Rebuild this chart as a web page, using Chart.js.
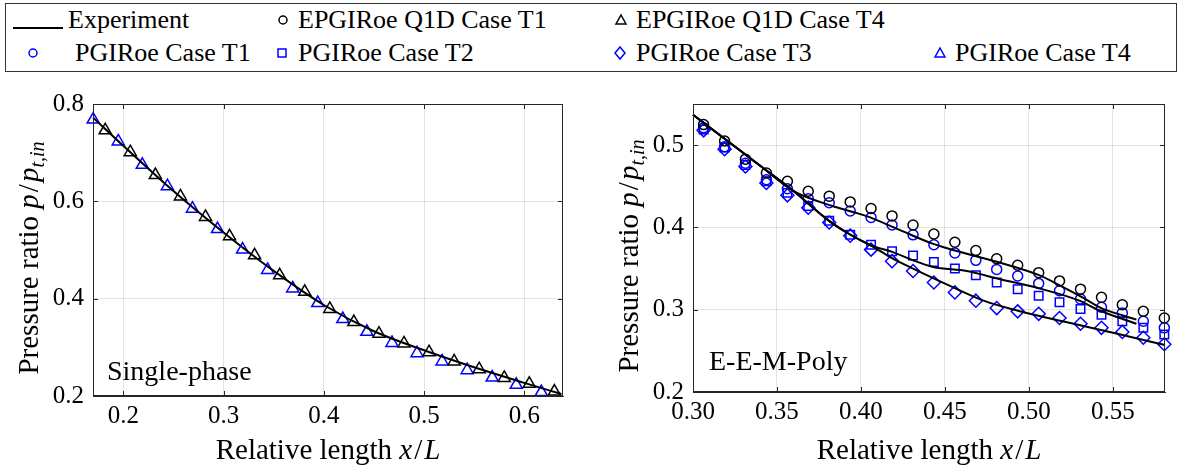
<!DOCTYPE html>
<html>
<head>
<meta charset="utf-8">
<script src="https://cdn.jsdelivr.net/npm/chart.js@4.4.1/dist/chart.umd.min.js"></script>
<style>
  body { margin: 0; width: 1181px; height: 468px; background: #fff; position: relative; overflow: hidden; }
  #legend { position: absolute; left: 5px; top: 3px; width: 1172px; height: 69px; border: 1px solid #333; box-sizing: border-box; }
  .lg { position: absolute; font-family: 'Liberation Serif'; font-size: 26px; line-height: 30px; white-space: nowrap; color: #000; }
  .mk { position: absolute; }
  canvas { position: absolute; }
</style>
</head>
<body>
<div id="legend"></div>
<canvas id="left" width="590" height="388" style="left:0;top:80px"></canvas>
<canvas id="right" width="591" height="388" style="left:590px;top:80px"></canvas>

<script>
/* Pressure ratio along the nozzle — single-phase vs E-E-M-Poly */

const SERIF = "'Liberation Serif'";
const AXIS  = "#262626";
const GRID  = "rgba(38,38,38,0.13)";
const BLUE  = "#0000ff";

// ── Left panel: single-phase ────────────────────────────────────────────────
const L_X_TICKS = [0.2, 0.3, 0.4, 0.5, 0.6];
const L_Y_TICKS = [0.2, 0.4, 0.6, 0.8];

const L_EXP_X = [0.1698, 0.2, 0.25, 0.3, 0.35, 0.4, 0.45, 0.5, 0.55, 0.6, 0.637];
const L_EXP_Y = [0.772, 0.714, 0.621, 0.536, 0.457, 0.387, 0.333, 0.294, 0.259, 0.227, 0.204];

const L_Q1D_T4_X = [0.182, 0.207, 0.232, 0.257, 0.282, 0.306, 0.331, 0.356, 0.381, 0.406, 0.430, 0.455, 0.480, 0.505, 0.530, 0.555, 0.580, 0.605, 0.630];
const L_Q1D_T4_Y = [0.746, 0.701, 0.654, 0.610, 0.568, 0.528, 0.489, 0.448, 0.414, 0.379, 0.352, 0.328, 0.308, 0.290, 0.271, 0.255, 0.237, 0.225, 0.209];

const L_PG_T4_X = [0.170, 0.195, 0.219, 0.244, 0.269, 0.294, 0.319, 0.344, 0.369, 0.394, 0.419, 0.443, 0.468, 0.493, 0.518, 0.543, 0.568, 0.592, 0.617];
const L_PG_T4_Y = [0.768, 0.723, 0.675, 0.631, 0.585, 0.543, 0.501, 0.459, 0.421, 0.391, 0.358, 0.332, 0.309, 0.288, 0.271, 0.253, 0.238, 0.223, 0.208];

// ── Right panel: E-E-M-Poly ─────────────────────────────────────────────────
const R_X_TICKS = [0.30, 0.35, 0.40, 0.45, 0.50, 0.55];
const R_Y_TICKS = [0.2, 0.3, 0.4, 0.5];

const R_EXP1_X = [0.300, 0.320, 0.340, 0.360, 0.383, 0.403, 0.423, 0.443, 0.463, 0.483, 0.506, 0.518, 0.531, 0.543, 0.556, 0.564];
const R_EXP1_Y = [0.537, 0.506, 0.475, 0.444, 0.426, 0.414, 0.397, 0.380, 0.368, 0.357, 0.342, 0.330, 0.316, 0.302, 0.293, 0.288];
const R_EXP2_X = [0.300, 0.320, 0.340, 0.360, 0.381, 0.393, 0.406, 0.419, 0.431, 0.443, 0.463, 0.483, 0.506, 0.530, 0.542, 0.564];
const R_EXP2_Y = [0.537, 0.506, 0.475, 0.444, 0.408, 0.392, 0.378, 0.370, 0.360, 0.352, 0.347, 0.337, 0.326, 0.311, 0.299, 0.283];
const R_EXP3_X = [0.300, 0.320, 0.340, 0.360, 0.381, 0.393, 0.406, 0.419, 0.431, 0.453, 0.473, 0.493, 0.522, 0.552, 0.581];
const R_EXP3_Y = [0.537, 0.506, 0.475, 0.444, 0.408, 0.392, 0.378, 0.362, 0.350, 0.329, 0.311, 0.299, 0.285, 0.271, 0.257];

const R_X = [0.3063, 0.3188, 0.3312, 0.3437, 0.3562, 0.3686, 0.3811, 0.3936, 0.4060, 0.4185, 0.4310, 0.4434,
             0.4559, 0.4684, 0.4808, 0.4933, 0.5058, 0.5182, 0.5307, 0.5432, 0.5556, 0.5681, 0.5806];
const R_Q1D_T1 = [0.525, 0.505, 0.483, 0.466, 0.456, 0.444, 0.438, 0.431, 0.423, 0.414, 0.403, 0.392,
                  0.382, 0.372, 0.362, 0.354, 0.345, 0.335, 0.325, 0.315, 0.306, 0.298, 0.290];
const R_PG_T1  = [0.521, 0.498, 0.478, 0.458, 0.447, 0.435, 0.430, 0.420, 0.412, 0.403, 0.391, 0.379,
                  0.369, 0.360, 0.349, 0.341, 0.332, 0.323, 0.313, 0.303, 0.296, 0.286, 0.278];
const R_PG_T2  = [0.519, 0.497, 0.476, 0.456, 0.442, 0.426, 0.408, 0.391, 0.379, 0.371, 0.366, 0.358,
                  0.350, 0.342, 0.333, 0.325, 0.317, 0.309, 0.301, 0.294, 0.286, 0.278, 0.270];
const R_PG_T3  = [0.518, 0.495, 0.474, 0.454, 0.439, 0.424, 0.406, 0.390, 0.373, 0.359, 0.347, 0.333,
                  0.321, 0.311, 0.302, 0.298, 0.295, 0.290, 0.283, 0.278, 0.273, 0.266, 0.258];

// ── Legend ──────────────────────────────────────────────────────────────────
const LEGEND = [
  // [kind, colour, marker x, row y, text x, label]
  ["line",     "#000", 38,  20, 68,  "Experiment"],
  ["circle",   "#000", 283, 20, 298, "EPGIRoe Q1D Case T1"],
  ["triangle", "#000", 621, 20, 636, "EPGIRoe Q1D Case T4"],
  ["circle",   BLUE,   33,  53, 75,  "PGIRoe Case T1"],
  ["rect",     BLUE,   282, 53, 298, "PGIRoe Case T2"],
  ["diamond",  BLUE,   620, 53, 636, "PGIRoe Case T3"],
  ["triangle", BLUE,   940, 53, 955, "PGIRoe Case T4"],
];

function markerSvg(kind, c) {
  const s = `fill="none" stroke="${c}" stroke-width="1.5"`;
  if (kind === "line")     return `<svg width="50" height="6"><line x1="0" y1="3" x2="50" y2="3" stroke="${c}" stroke-width="2"/></svg>`;
  if (kind === "circle")   return `<svg width="14" height="14"><circle cx="7" cy="7" r="4" ${s}/></svg>`;
  if (kind === "rect")     return `<svg width="14" height="14"><rect x="3" y="3" width="8" height="8" ${s}/></svg>`;
  if (kind === "diamond")  return `<svg width="14" height="16"><path d="M7 2 L12 8 L7 14 L2 8 Z" ${s}/></svg>`;
  return `<svg width="14" height="14"><path d="M7 2 L12 11 L2 11 Z" ${s}/></svg>`;
}

LEGEND.forEach(([kind, c, mx, y, tx, label]) => {
  const m = document.createElement("div");
  m.className = "mk";
  m.innerHTML = markerSvg(kind, c);
  document.body.appendChild(m);
  const w = kind === "line" ? 50 : 14, h = kind === "line" ? 6 : (kind === "diamond" ? 16 : 14);
  m.style.left = (mx - w / 2) + "px";
  m.style.top  = (y - h / 2) + "px";
  m.style.height = h + "px";
  const t = document.createElement("div");
  t.className = "lg";
  t.textContent = label;
  t.style.left = tx + "px";
  t.style.top  = (y - 15) + "px";
  document.body.appendChild(t);
});

// ── Helpers ─────────────────────────────────────────────────────────────────
const pts = (xs, ys) => xs.map((x, i) => ({ x, y: ys[i] }));

function expLine(xs, ys) {
  return { data: pts(xs, ys), showLine: true, borderColor: "#000", borderWidth: 2,
           pointRadius: 0, cubicInterpolationMode: "monotone", clip: false, order: 0 };
}
function markers(xs, ys, style, colour, r) {
  return { data: pts(xs, ys), showLine: false, pointStyle: style, pointRadius: r,
           pointBorderColor: colour, pointBackgroundColor: "rgba(0,0,0,0)", pointBorderWidth: 1.5,
           clip: false, order: 1 };
}

// Draw mixed upright/italic text (LaTeX-ish) centred on (cx, cy)
function richText(ctx, parts, cx, cy, size, rotate) {
  const fontOf = p => `${p.it ? "italic " : ""}${p.sub ? Math.round(size * 0.7) : size}px ${SERIF}`;
  let total = 0;
  parts.forEach(p => { ctx.font = fontOf(p); p.w = ctx.measureText(p.t).width + (p.gap || 0); total += p.w; });
  ctx.save();
  ctx.translate(cx, cy);
  if (rotate) ctx.rotate(-Math.PI / 2);
  ctx.fillStyle = "#000";
  ctx.textBaseline = "middle";
  ctx.textAlign = "left";
  let x = -total / 2;
  parts.forEach(p => {
    ctx.font = fontOf(p);
    ctx.fillText(p.t, x, p.sub ? size * 0.3 : 0);
    x += p.w;
  });
  ctx.restore();
}

const Y_TITLE = [{ t: "Pressure ratio " }, { t: "p", it: 1, gap: 2 }, { t: "/", gap: 2 }, { t: "p", it: 1 }, { t: "t,in", it: 1, sub: 1 }];
const X_TITLE = [{ t: "Relative length " }, { t: "x", it: 1, gap: 2 }, { t: "/", gap: 2 }, { t: "L", it: 1 }];

// Box around the axes, inward ticks, titles and the panel tag
function frame(opts) {
  return {
    id: "frame",
    afterDraw(chart) {
      const { ctx, chartArea: a, scales } = chart;
      ctx.save();
      ctx.strokeStyle = AXIS;
      ctx.lineWidth = 1;
      ctx.strokeRect(a.left + 0.5, a.top + 0.5, a.right - a.left - 1, a.bottom - a.top - 1);
      ctx.beginPath();
      scales.x.ticks.forEach(t => {
        const px = Math.round(scales.x.getPixelForValue(t.value)) + 0.5;
        ctx.moveTo(px, a.bottom); ctx.lineTo(px, a.bottom - 5);
        ctx.moveTo(px, a.top);    ctx.lineTo(px, a.top + 5);
      });
      scales.y.ticks.forEach(t => {
        const py = Math.round(scales.y.getPixelForValue(t.value)) + 0.5;
        ctx.moveTo(a.left, py);  ctx.lineTo(a.left + 5, py);
        ctx.moveTo(a.right, py); ctx.lineTo(a.right - 5, py);
      });
      ctx.stroke();
      ctx.restore();

      richText(ctx, X_TITLE, (a.left + a.right) / 2, 371, 29, false);
      richText(ctx, Y_TITLE, opts.yTitleX, (a.top + a.bottom) / 2 + 8, 29, true);

      ctx.save();
      ctx.font = `28px ${SERIF}`;
      ctx.fillStyle = "#000";
      ctx.textBaseline = "alphabetic";
      ctx.fillText(opts.tag, opts.tagX, opts.tagY);
      ctx.restore();
    }
  };
}

function axes(xMin, xMax, xTicks, xDec, yMin, yMax, yTicks, yW, xH) {
  const tickFont = { family: SERIF, size: 25 };
  return {
    x: {
      type: "linear", min: xMin, max: xMax,
      afterBuildTicks: s => { s.ticks = xTicks.map(v => ({ value: v })); },
      afterFit: s => { s.height = xH; },
      grid: { color: GRID, drawTicks: false },
      border: { display: true, color: AXIS },
      ticks: { font: tickFont, color: "#000", padding: 5, maxRotation: 0, callback: v => v.toFixed(xDec) },
    },
    y: {
      type: "linear", min: yMin, max: yMax,
      afterBuildTicks: s => { s.ticks = yTicks.map(v => ({ value: v })); },
      afterFit: s => { s.width = yW; },
      grid: { color: GRID, drawTicks: false },
      border: { display: true, color: AXIS },
      ticks: { font: tickFont, color: "#000", padding: 9, callback: v => v.toFixed(1) },
    },
  };
}

const common = {
  responsive: false,
  animation: false,
  devicePixelRatio: 1,
  plugins: { legend: { display: false }, tooltip: { enabled: false } },
};

// ── Left chart ──────────────────────────────────────────────────────────────
new Chart(document.getElementById("left"), {
  type: "scatter",
  data: {
    datasets: [
      expLine(L_EXP_X, L_EXP_Y),
      markers(L_Q1D_T4_X, L_Q1D_T4_Y, "triangle", "#000", 7),
      markers(L_PG_T4_X, L_PG_T4_Y, "triangle", BLUE, 7),
    ],
  },
  options: {
    ...common,
    layout: { padding: { top: 20, right: 27, bottom: 0, left: 0 } },
    scales: axes(0.1698, 0.6386, L_X_TICKS, 1, 0.2, 0.8, L_Y_TICKS, 93, 72),
  },
  plugins: [frame({ yTitleX: 30, tag: "Single-phase", tagX: 107, tagY: 300 })],
});

// ── Right chart ─────────────────────────────────────────────────────────────
new Chart(document.getElementById("right"), {
  type: "scatter",
  data: {
    datasets: [
      expLine(R_EXP1_X, R_EXP1_Y),
      expLine(R_EXP2_X, R_EXP2_Y),
      expLine(R_EXP3_X, R_EXP3_Y),
      markers(R_X, R_Q1D_T1, "circle", "#000", 5),
      markers(R_X, R_PG_T1, "circle", BLUE, 5),
      markers(R_X, R_PG_T2, "rect", BLUE, 6),
      markers(R_X, R_PG_T3, "rectRot", BLUE, 6.5),
    ],
  },
  options: {
    ...common,
    layout: { padding: { top: 19, right: 16, bottom: 0, left: 0 } },
    scales: axes(0.30, 0.581, R_X_TICKS, 2, 0.2, 0.55, R_Y_TICKS, 103, 76),
  },
  plugins: [frame({ yTitleX: 40, tag: "E-E-M-Poly", tagX: 119, tagY: 290 })],
});
</script>
</body>
</html>
